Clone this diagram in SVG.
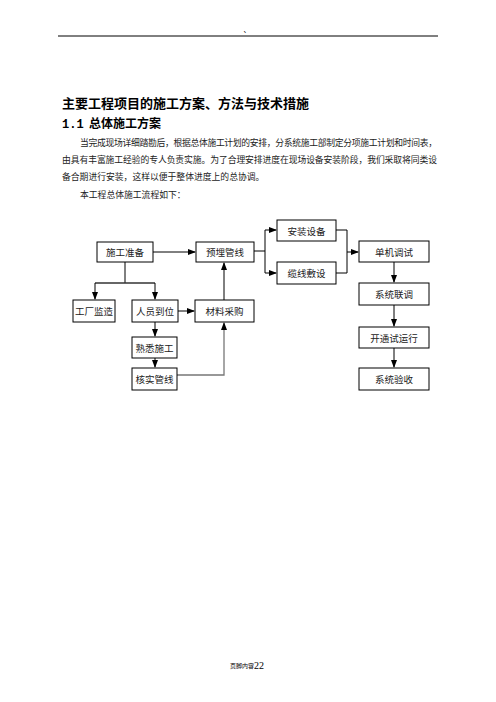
<svg xmlns="http://www.w3.org/2000/svg" width="496" height="702" viewBox="0 0 496 702">
<style>
.t{font-family:"Noto Sans CJK SC","Noto Sans",sans-serif;fill:#000}
.p{font-size:8.8px;fill:#222}
.b{font-size:9.5px;text-anchor:middle;dominant-baseline:central;fill:#222}
.n rect{fill:#fff;stroke:#000;stroke-width:1}
.c line,.c polyline{stroke:#000;stroke-width:1;fill:none}
</style>
<defs>
<marker id="a" markerUnits="userSpaceOnUse" markerWidth="8" markerHeight="6" refX="7" refY="3" orient="auto">
<path d="M0,0 L8,3 L0,6 z" fill="#000"/>
</marker>
</defs>
<rect width="496" height="702" fill="#fff"/>
<text class="t" x="247" y="32" font-size="7" fill="#aaa" text-anchor="middle">、</text>
<line x1="58" y1="36" x2="438" y2="36" stroke="#000" stroke-width="1"/>
<text class="t" x="62" y="108" font-size="13" font-weight="bold">主要工程项目的施工方案、方法与技术措施</text>
<text class="t" x="62" y="128" font-size="12" font-weight="bold"><tspan font-family="Liberation Mono,monospace">1.1</tspan><tspan x="89">总体施工方案</tspan></text>
<text class="t p" x="80" y="146" textLength="357" lengthAdjust="spacing">当完成现场详细踏勘后，根据总体施工计划的安排，分系统施工部制定分项施工计划和时间表，</text>
<text class="t p" x="62" y="163" textLength="375" lengthAdjust="spacing">由具有丰富施工经验的专人负责实施。为了合理安排进度在现场设备安装阶段，我们采取将同类设</text>
<text class="t p" x="62" y="180">备合期进行安装，这样以便于整体进度上的总协调。</text>
<text class="t p" x="80" y="198">本工程总体施工流程如下：</text>

<g class="c">
<line x1="153" y1="252" x2="195" y2="252" marker-end="url(#a)"/>
<line x1="254" y1="251" x2="265" y2="251"/>
<line x1="265" y1="230" x2="265" y2="273"/>
<line x1="265" y1="230" x2="276" y2="230" marker-end="url(#a)"/>
<line x1="265" y1="273" x2="276" y2="273" marker-end="url(#a)"/>
<line x1="336" y1="230" x2="347" y2="230"/>
<line x1="336" y1="273" x2="347" y2="273"/>
<line x1="347" y1="230" x2="347" y2="273"/>
<line x1="347" y1="252" x2="358" y2="252" marker-end="url(#a)"/>
<line x1="394" y1="262" x2="394" y2="282" marker-end="url(#a)"/>
<line x1="394" y1="305" x2="394" y2="326" marker-end="url(#a)"/>
<line x1="394" y1="348" x2="394" y2="367" marker-end="url(#a)"/>
<line x1="125" y1="262" x2="125" y2="283"/>
<line x1="95" y1="283" x2="155" y2="283" style="stroke:#333;stroke-width:1.3"/>
<line x1="95" y1="283" x2="95" y2="299" marker-end="url(#a)"/>
<line x1="155" y1="283" x2="155" y2="299" marker-end="url(#a)"/>
<line x1="178" y1="311" x2="194" y2="311" marker-end="url(#a)"/>
<line x1="155" y1="322" x2="155" y2="336" marker-end="url(#a)"/>
<line x1="155" y1="358" x2="155" y2="367" marker-end="url(#a)"/>
<line x1="224" y1="300" x2="224" y2="263" marker-end="url(#a)"/>
<polyline points="177,375 224,375 224,323" style="stroke:#777;stroke-width:1.3" marker-end="url(#a)"/>
</g>

<g class="n" id="n1"><rect x="97" y="242" width="56" height="20"/><text class="t b" x="125" y="252">施工准备</text></g>
<g class="n" id="n2"><rect x="196" y="242" width="58" height="20"/><text class="t b" x="225" y="252">预埋管线</text></g>
<g class="n" id="n3"><rect x="277" y="220" width="59" height="21"/><text class="t b" x="306.5" y="230.5">安装设备</text></g>
<g class="n" id="n4"><rect x="277" y="262" width="59" height="22"/><text class="t b" x="306.5" y="273">缆线敷设</text></g>
<g class="n" id="n5"><rect x="359" y="241" width="70" height="21"/><text class="t b" x="394" y="251.5">单机调试</text></g>
<g class="n" id="n6"><rect x="359" y="283" width="70" height="22"/><text class="t b" x="394" y="294">系统联调</text></g>
<g class="n" id="n7"><rect x="359" y="327" width="70" height="21"/><text class="t b" x="394" y="337.5">开通试运行</text></g>
<g class="n" id="n8"><rect x="359" y="368" width="70" height="22"/><text class="t b" x="394" y="379">系统验收</text></g>
<g class="n" id="n9"><rect x="73" y="300" width="42" height="22"/><text class="t b" x="94" y="311">工厂监造</text></g>
<g class="n" id="n10"><rect x="132" y="300" width="46" height="22"/><text class="t b" x="155" y="311">人员到位</text></g>
<g class="n" id="n11"><rect x="132" y="337" width="45" height="21"/><text class="t b" x="154.5" y="347.5">熟悉施工</text></g>
<g class="n" id="n12"><rect x="132" y="368" width="45" height="22"/><text class="t b" x="154.5" y="379">核实管线</text></g>
<g class="n" id="n13"><rect x="195" y="300" width="59" height="22"/><text class="t b" x="224.5" y="311">材料采购</text></g>

<text class="t" x="230" y="668" font-size="6" fill="#c8c8a8">页脚内容</text>
<text x="254" y="669" font-size="10" font-family="Liberation Serif,serif" fill="#000">22</text>
</svg>
